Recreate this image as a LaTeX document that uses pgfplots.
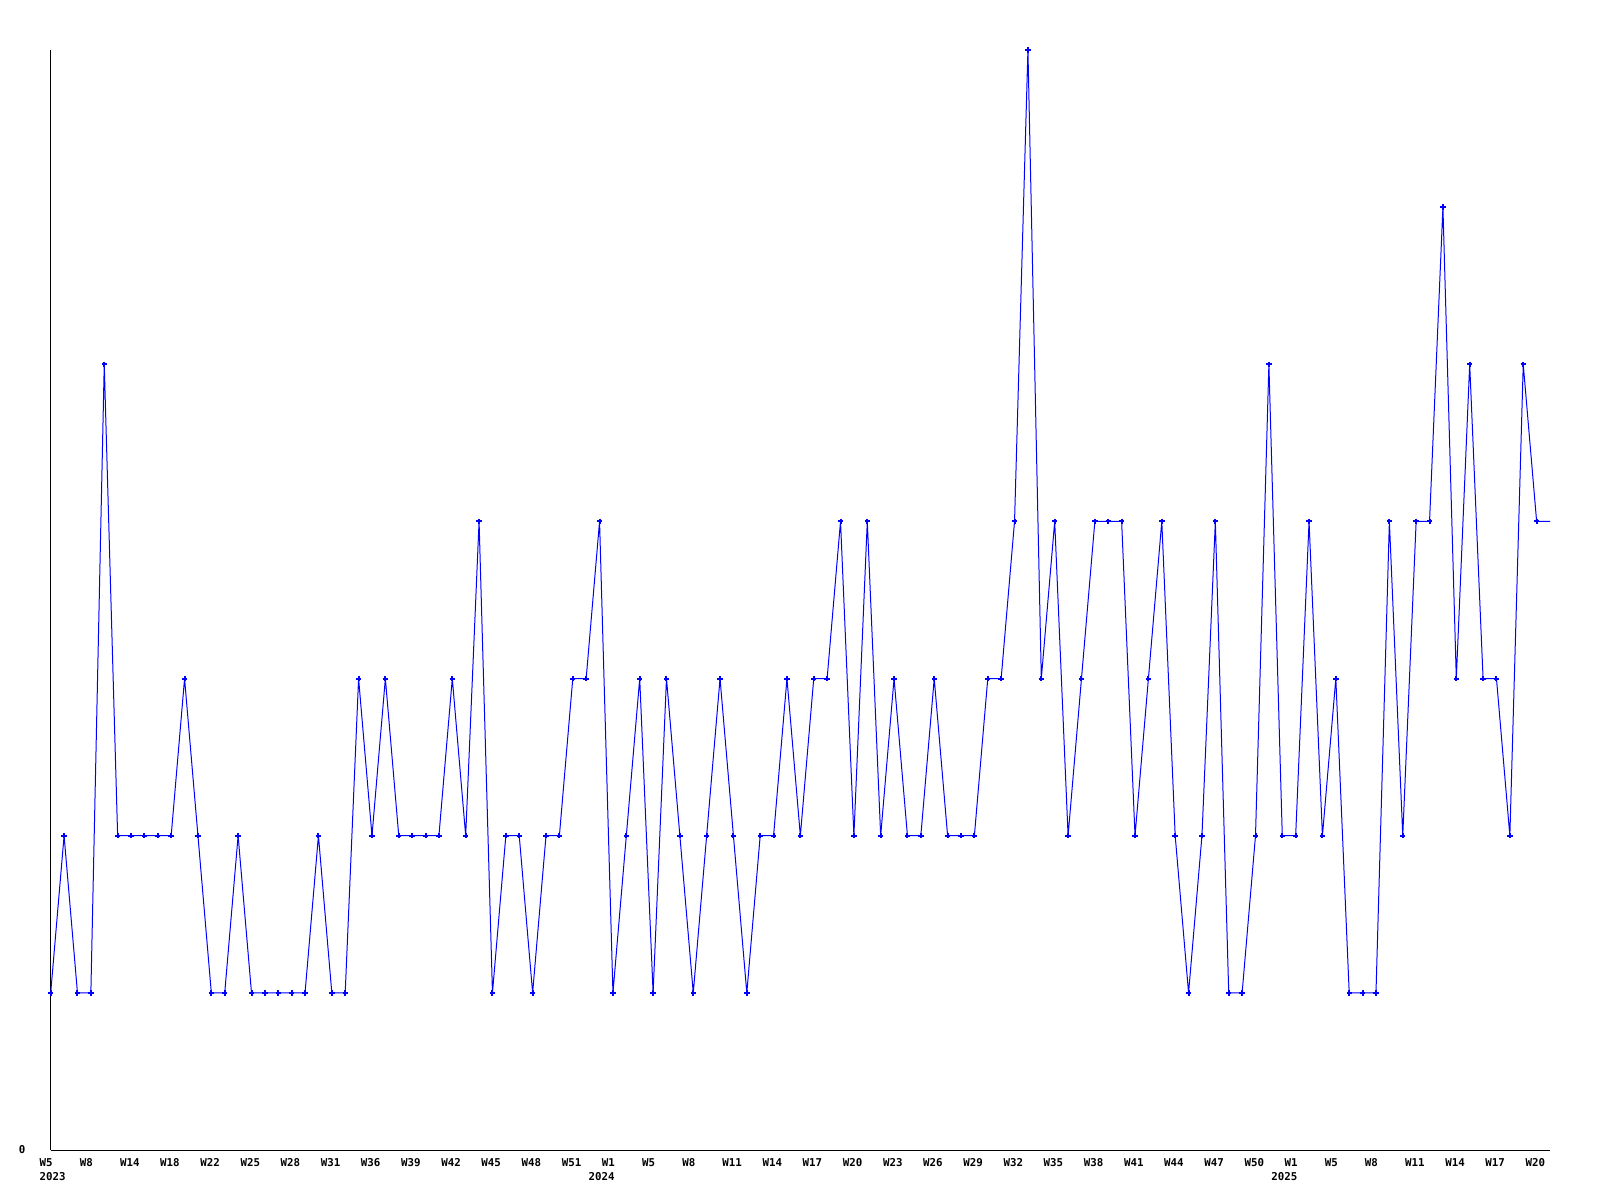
\documentclass[border=0pt]{standalone}
\usepackage{pgfplots}
\pgfplotsset{compat=1.18}
\usepackage{fontspec}
\setmainfont{DejaVu Sans Mono}
\definecolor{lineblue}{RGB}{0,0,255}
\begin{document}
\begin{tikzpicture}
\path[use as bounding box] (0,0) rectangle (800bp,600bp);
\begin{axis}[
  at={(25.35bp,25bp)}, anchor=south west,
  scale only axis, width=749.65bp, height=550bp,
  xmin=0, xmax=112, ymin=0, ymax=7,
  axis x line=bottom, axis y line=left,
  axis line style={-, line width=0.5bp, black},
  xtick={0,3,...,111},
  xticklabels={{W5\\2023},W8,W14,W18,W22,W25,W28,W31,W36,W39,W42,W45,W48,W51,{W1\\\hspace*{-6.7bp}2024},W5,W8,W11,W14,W17,W20,W23,W26,W29,W32,W35,W38,W41,W44,W47,W50,{W1\\\hspace*{-6.7bp}2025},W5,W8,W11,W14,W17,W20},
  ytick={0}, yticklabels={0},
  major tick length=0pt,
  tick label style={font=\fontsize{5.4bp}{7.15bp}\selectfont\bfseries},
  x tick label style={anchor=north west, align=left, inner sep=0pt, xshift=-5.7bp, yshift=-4bp},
  y tick label style={anchor=east, inner sep=0pt, xshift=-12.5bp},
  clip=true,
]
\addplot[color=lineblue, line width=0.5bp, mark=+, mark size=1.35bp, mark indices={1,...,112}, mark options={line width=1bp, draw=lineblue}] coordinates {
(0,1)(1,2)(2,1)(3,1)(4,5)(5,2)(6,2)(7,2)(8,2)(9,2)
(10,3)(11,2)(12,1)(13,1)(14,2)(15,1)(16,1)(17,1)(18,1)(19,1)
(20,2)(21,1)(22,1)(23,3)(24,2)(25,3)(26,2)(27,2)(28,2)(29,2)
(30,3)(31,2)(32,4)(33,1)(34,2)(35,2)(36,1)(37,2)(38,2)(39,3)
(40,3)(41,4)(42,1)(43,2)(44,3)(45,1)(46,3)(47,2)(48,1)(49,2)
(50,3)(51,2)(52,1)(53,2)(54,2)(55,3)(56,2)(57,3)(58,3)(59,4)
(60,2)(61,4)(62,2)(63,3)(64,2)(65,2)(66,3)(67,2)(68,2)(69,2)
(70,3)(71,3)(72,4)(73,7)(74,3)(75,4)(76,2)(77,3)(78,4)(79,4)
(80,4)(81,2)(82,3)(83,4)(84,2)(85,1)(86,2)(87,4)(88,1)(89,1)
(90,2)(91,5)(92,2)(93,2)(94,4)(95,2)(96,3)(97,1)(98,1)(99,1)
(100,4)(101,2)(102,4)(103,4)(104,6)(105,3)(106,5)(107,3)(108,3)(109,2)
(110,5)(111,4)(112,4)
};
\end{axis}
\end{tikzpicture}
\end{document}
